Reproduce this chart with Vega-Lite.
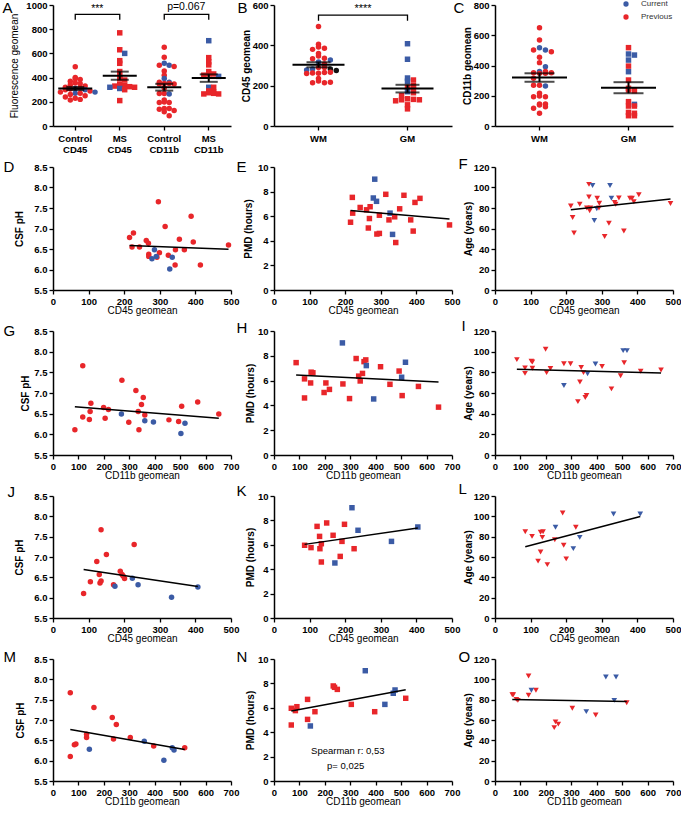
{
"$schema": "https://vega.github.io/schema/vega-lite/v6.json",
"padding": {"left": 2, "top": 0, "right": 0, "bottom": 0},
"bounds": "flush",
"columns": 3,
"spacing": {"row": 41, "column": 43},
"resolve": {"scale": {"color": "independent", "shape": "independent", "xOffset": "independent"}, "legend": {"color": "independent", "shape": "independent"}},
"config": {
  "font": "Liberation Sans",
  "view": {"stroke": null},
  "axis": {"labelFont": "Liberation Sans", "labelFontWeight": "bold", "labelFontSize": 9.5, "labelColor": "#000", "titleFont": "Liberation Sans", "titleFontSize": 10, "titleColor": "#000", "titleFontWeight": "normal", "domainColor": "#000", "domainWidth": 1.5, "tickColor": "#000", "tickWidth": 1.3, "tickSize": 4, "grid": false, "labelPadding": 2, "labelFlush": false},
  "axisX": {"titlePadding": 0},
  "axisY": {"titleFontWeight": "bold", "titlePadding": 4}
},
"datasets": {
  "A": [
    {"g":"Control CD45","y":490,"s":"P"},{"g":"Control CD45","y":400,"s":"P"},{"g":"Control CD45","y":390,"s":"P"},{"g":"Control CD45","y":385,"s":"P"},{"g":"Control CD45","y":370,"s":"P"},{"g":"Control CD45","y":355,"s":"P"},{"g":"Control CD45","y":350,"s":"P"},{"g":"Control CD45","y":340,"s":"P"},{"g":"Control CD45","y":330,"s":"P"},{"g":"Control CD45","y":320,"s":"P"},{"g":"Control CD45","y":310,"s":"C"},{"g":"Control CD45","y":315,"s":"P"},{"g":"Control CD45","y":305,"s":"P"},{"g":"Control CD45","y":300,"s":"C"},{"g":"Control CD45","y":300,"s":"P"},{"g":"Control CD45","y":290,"s":"P"},{"g":"Control CD45","y":280,"s":"P"},{"g":"Control CD45","y":280,"s":"C"},{"g":"Control CD45","y":270,"s":"C"},{"g":"Control CD45","y":270,"s":"P"},{"g":"Control CD45","y":260,"s":"P"},{"g":"Control CD45","y":250,"s":"P"},{"g":"Control CD45","y":240,"s":"P"},{"g":"Control CD45","y":230,"s":"P"},{"g":"Control CD45","y":220,"s":"P"},{"g":"Control CD45","y":215,"s":"P"},
    {"g":"MS CD45","y":770,"s":"P"},{"g":"MS CD45","y":630,"s":"P"},{"g":"MS CD45","y":600,"s":"C"},{"g":"MS CD45","y":540,"s":"P"},{"g":"MS CD45","y":518,"s":"P"},{"g":"MS CD45","y":450,"s":"P"},{"g":"MS CD45","y":410,"s":"P"},{"g":"MS CD45","y":390,"s":"P"},{"g":"MS CD45","y":380,"s":"P"},{"g":"MS CD45","y":345,"s":"P"},{"g":"MS CD45","y":335,"s":"P"},{"g":"MS CD45","y":330,"s":"P"},{"g":"MS CD45","y":325,"s":"P"},{"g":"MS CD45","y":320,"s":"C"},{"g":"MS CD45","y":320,"s":"P"},{"g":"MS CD45","y":310,"s":"C"},{"g":"MS CD45","y":300,"s":"P"},{"g":"MS CD45","y":210,"s":"P"},
    {"g":"Control CD11b","y":650,"s":"P"},{"g":"Control CD11b","y":568,"s":"P"},{"g":"Control CD11b","y":518,"s":"C"},{"g":"Control CD11b","y":502,"s":"C"},{"g":"Control CD11b","y":502,"s":"P"},{"g":"Control CD11b","y":491,"s":"P"},{"g":"Control CD11b","y":454,"s":"P"},{"g":"Control CD11b","y":419,"s":"P"},{"g":"Control CD11b","y":392,"s":"C"},{"g":"Control CD11b","y":361,"s":"C"},{"g":"Control CD11b","y":361,"s":"P"},{"g":"Control CD11b","y":352,"s":"P"},{"g":"Control CD11b","y":352,"s":"P"},{"g":"Control CD11b","y":348,"s":"P"},{"g":"Control CD11b","y":348,"s":"P"},{"g":"Control CD11b","y":315,"s":"P"},{"g":"Control CD11b","y":269,"s":"P"},{"g":"Control CD11b","y":264,"s":"C"},{"g":"Control CD11b","y":269,"s":"P"},{"g":"Control CD11b","y":216,"s":"P"},{"g":"Control CD11b","y":198,"s":"P"},{"g":"Control CD11b","y":194,"s":"P"},{"g":"Control CD11b","y":194,"s":"P"},{"g":"Control CD11b","y":145,"s":"P"},{"g":"Control CD11b","y":145,"s":"P"},{"g":"Control CD11b","y":139,"s":"P"},{"g":"Control CD11b","y":128,"s":"P"},{"g":"Control CD11b","y":117,"s":"P"},{"g":"Control CD11b","y":84,"s":"P"},
    {"g":"MS CD11b","y":705,"s":"C"},{"g":"MS CD11b","y":565,"s":"P"},{"g":"MS CD11b","y":530,"s":"P"},{"g":"MS CD11b","y":505,"s":"P"},{"g":"MS CD11b","y":450,"s":"P"},{"g":"MS CD11b","y":430,"s":"P"},{"g":"MS CD11b","y":430,"s":"P"},{"g":"MS CD11b","y":420,"s":"P"},{"g":"MS CD11b","y":410,"s":"C"},{"g":"MS CD11b","y":320,"s":"C"},{"g":"MS CD11b","y":320,"s":"P"},{"g":"MS CD11b","y":290,"s":"P"},{"g":"MS CD11b","y":280,"s":"P"},{"g":"MS CD11b","y":275,"s":"P"},{"g":"MS CD11b","y":270,"s":"P"},{"g":"MS CD11b","y":265,"s":"P"},{"g":"MS CD11b","y":265,"s":"P"}
  ],
  "Abr": [
    {"b":1,"o":1,"g":"Control CD45","y":878},{"b":1,"o":2,"g":"Control CD45","y":923},{"b":1,"o":3,"g":"MS CD45","y":923},{"b":1,"o":4,"g":"MS CD45","y":878},
    {"b":2,"o":1,"g":"Control CD11b","y":878},{"b":2,"o":2,"g":"Control CD11b","y":923},{"b":2,"o":3,"g":"MS CD11b","y":923},{"b":2,"o":4,"g":"MS CD11b","y":878}
  ],
  "Atx": [{"g":"Control CD45","y":940,"t":"***"},{"g":"Control CD11b","y":962,"t":"p=0.067"}],
  "B": [
    {"g":"WM","y":493,"s":"P"},{"g":"WM","y":405,"s":"P"},{"g":"WM","y":392,"s":"P"},{"g":"WM","y":385,"s":"P"},{"g":"WM","y":380,"s":"P"},{"g":"WM","y":360,"s":"P"},{"g":"WM","y":347,"s":"P"},{"g":"WM","y":336,"s":"P"},{"g":"WM","y":333,"s":"P"},{"g":"WM","y":327,"s":"C"},{"g":"WM","y":317,"s":"C"},{"g":"WM","y":307,"s":"P"},{"g":"WM","y":290,"s":"P"},{"g":"WM","y":290,"s":"P"},{"g":"WM","y":283,"s":"C"},{"g":"WM","y":283,"s":"K"},{"g":"WM","y":278,"s":"C"},{"g":"WM","y":275,"s":"K"},{"g":"WM","y":262,"s":"P"},{"g":"WM","y":265,"s":"P"},{"g":"WM","y":263,"s":"P"},{"g":"WM","y":266,"s":"P"},{"g":"WM","y":260,"s":"P"},{"g":"WM","y":236,"s":"P"},{"g":"WM","y":223,"s":"P"},{"g":"WM","y":215,"s":"P"},{"g":"WM","y":215,"s":"P"},{"g":"WM","y":217,"s":"P"},
    {"g":"GM","y":408,"s":"C"},{"g":"GM","y":331,"s":"C"},{"g":"GM","y":238,"s":"C"},{"g":"GM","y":228,"s":"P"},{"g":"GM","y":222,"s":"C"},{"g":"GM","y":200,"s":"P"},{"g":"GM","y":192,"s":"P"},{"g":"GM","y":190,"s":"P"},{"g":"GM","y":170,"s":"C"},{"g":"GM","y":165,"s":"P"},{"g":"GM","y":150,"s":"P"},{"g":"GM","y":135,"s":"P"},{"g":"GM","y":132,"s":"P"},{"g":"GM","y":130,"s":"P"},{"g":"GM","y":130,"s":"P"},{"g":"GM","y":125,"s":"P"},{"g":"GM","y":105,"s":"P"},{"g":"GM","y":85,"s":"P"}
  ],
  "Bbr": [{"b":1,"o":1,"g":"WM","y":522},{"b":1,"o":2,"g":"WM","y":550},{"b":1,"o":3,"g":"GM","y":550},{"b":1,"o":4,"g":"GM","y":522}],
  "Btx": [{"g":"WM","y":567,"t":"****"}],
  "C": [
    {"g":"WM","y":650,"s":"Previous"},{"g":"WM","y":568,"s":"Previous"},{"g":"WM","y":518,"s":"Current"},{"g":"WM","y":502,"s":"Current"},{"g":"WM","y":502,"s":"Previous"},{"g":"WM","y":491,"s":"Previous"},{"g":"WM","y":454,"s":"Previous"},{"g":"WM","y":419,"s":"Previous"},{"g":"WM","y":392,"s":"Current"},{"g":"WM","y":361,"s":"Current"},{"g":"WM","y":361,"s":"Previous"},{"g":"WM","y":352,"s":"Previous"},{"g":"WM","y":352,"s":"Previous"},{"g":"WM","y":348,"s":"Previous"},{"g":"WM","y":348,"s":"Previous"},{"g":"WM","y":315,"s":"Previous"},{"g":"WM","y":269,"s":"Previous"},{"g":"WM","y":264,"s":"Current"},{"g":"WM","y":269,"s":"Previous"},{"g":"WM","y":216,"s":"Previous"},{"g":"WM","y":198,"s":"Previous"},{"g":"WM","y":194,"s":"Previous"},{"g":"WM","y":194,"s":"Previous"},{"g":"WM","y":145,"s":"Previous"},{"g":"WM","y":145,"s":"Previous"},{"g":"WM","y":139,"s":"Previous"},{"g":"WM","y":128,"s":"Previous"},{"g":"WM","y":117,"s":"Previous"},{"g":"WM","y":84,"s":"Previous"},
    {"g":"GM","y":518,"s":"Previous"},{"g":"GM","y":476,"s":"Current"},{"g":"GM","y":469,"s":"Current"},{"g":"GM","y":436,"s":"Current"},{"g":"GM","y":396,"s":"Previous"},{"g":"GM","y":359,"s":"Current"},{"g":"GM","y":304,"s":"Previous"},{"g":"GM","y":249,"s":"Previous"},{"g":"GM","y":238,"s":"Previous"},{"g":"GM","y":233,"s":"Previous"},{"g":"GM","y":161,"s":"Previous"},{"g":"GM","y":143,"s":"Current"},{"g":"GM","y":132,"s":"Previous"},{"g":"GM","y":132,"s":"Previous"},{"g":"GM","y":90,"s":"Previous"},{"g":"GM","y":84,"s":"Previous"},{"g":"GM","y":68,"s":"Previous"},{"g":"GM","y":68,"s":"Previous"}
  ],
  "D": [{"x":215,"y":6.78,"s":"P"},{"x":226,"y":6.89,"s":"P"},{"x":222,"y":6.55,"s":"P"},{"x":243,"y":6.55,"s":"P"},{"x":262,"y":6.71,"s":"P"},{"x":268,"y":6.64,"s":"P"},{"x":269,"y":6.37,"s":"P"},{"x":269,"y":6.32,"s":"P"},{"x":296,"y":7.65,"s":"P"},{"x":299,"y":6.41,"s":"P"},{"x":292,"y":6.3,"s":"P"},{"x":285,"y":6.48,"s":"C"},{"x":290,"y":6.32,"s":"C"},{"x":278,"y":6.26,"s":"C"},{"x":315,"y":7.05,"s":"P"},{"x":324,"y":6.35,"s":"P"},{"x":335,"y":6.3,"s":"C"},{"x":328,"y":6.01,"s":"C"},{"x":343,"y":6.11,"s":"P"},{"x":344,"y":6.48,"s":"P"},{"x":355,"y":6.74,"s":"P"},{"x":369,"y":6.48,"s":"P"},{"x":388,"y":7.3,"s":"P"},{"x":394,"y":6.67,"s":"P"},{"x":414,"y":6.11,"s":"P"},{"x":493,"y":6.6,"s":"P"}],
  "E": [{"x":215,"y":5.51,"s":"P"},{"x":220,"y":7.53,"s":"P"},{"x":221,"y":6.25,"s":"P"},{"x":242,"y":6.71,"s":"P"},{"x":260,"y":6.52,"s":"P"},{"x":270,"y":6.77,"s":"P"},{"x":268,"y":5.81,"s":"P"},{"x":265,"y":5.04,"s":"P"},{"x":279,"y":7.48,"s":"C"},{"x":288,"y":7.21,"s":"C"},{"x":283,"y":9.01,"s":"C"},{"x":296,"y":6.08,"s":"P"},{"x":289,"y":4.55,"s":"P"},{"x":296,"y":4.6,"s":"P"},{"x":314,"y":7.78,"s":"P"},{"x":326,"y":6.25,"s":"C"},{"x":323,"y":5.7,"s":"P"},{"x":339,"y":5.95,"s":"P"},{"x":333,"y":4.52,"s":"C"},{"x":342,"y":3.86,"s":"P"},{"x":353,"y":6.6,"s":"P"},{"x":365,"y":7.7,"s":"P"},{"x":384,"y":5.7,"s":"P"},{"x":391,"y":4.79,"s":"P"},{"x":396,"y":7.12,"s":"P"},{"x":410,"y":7.45,"s":"P"},{"x":493,"y":5.29,"s":"P"}],
  "F": [{"x":213,"y":82,"s":"P"},{"x":218,"y":70.8,"s":"P"},{"x":222,"y":55.6,"s":"P"},{"x":238,"y":83.7,"s":"P"},{"x":264,"y":103,"s":"P"},{"x":274,"y":102,"s":"C"},{"x":264,"y":90.8,"s":"P"},{"x":258,"y":80,"s":"P"},{"x":268,"y":80,"s":"P"},{"x":266,"y":77.3,"s":"P"},{"x":287,"y":89.5,"s":"P"},{"x":286,"y":79.3,"s":"C"},{"x":293,"y":84.7,"s":"P"},{"x":292,"y":80,"s":"P"},{"x":279,"y":67.8,"s":"C"},{"x":308,"y":52.2,"s":"P"},{"x":323,"y":102,"s":"C"},{"x":327,"y":89.5,"s":"C"},{"x":320,"y":65.1,"s":"P"},{"x":336,"y":85.4,"s":"P"},{"x":339,"y":83.7,"s":"P"},{"x":348,"y":89.8,"s":"P"},{"x":362,"y":57.6,"s":"P"},{"x":379,"y":89.5,"s":"P"},{"x":385,"y":89.5,"s":"P"},{"x":390,"y":86.1,"s":"P"},{"x":404,"y":92.9,"s":"P"},{"x":493,"y":84.4,"s":"P"}],
  "G": [{"x":86,"y":6.11,"s":"P"},{"x":117,"y":7.66,"s":"P"},{"x":117,"y":6.42,"s":"P"},{"x":143,"y":6.36,"s":"P"},{"x":146,"y":6.55,"s":"P"},{"x":149,"y":6.75,"s":"P"},{"x":199,"y":6.65,"s":"P"},{"x":205,"y":6.39,"s":"P"},{"x":218,"y":6.6,"s":"P"},{"x":269,"y":6.49,"s":"C"},{"x":271,"y":7.31,"s":"P"},{"x":298,"y":6.29,"s":"P"},{"x":326,"y":7.06,"s":"P"},{"x":335,"y":6.55,"s":"P"},{"x":338,"y":6.11,"s":"P"},{"x":348,"y":6.72,"s":"P"},{"x":355,"y":6.89,"s":"P"},{"x":361,"y":6.33,"s":"C"},{"x":361,"y":6.47,"s":"P"},{"x":395,"y":6.3,"s":"C"},{"x":456,"y":6.35,"s":"P"},{"x":494,"y":6.31,"s":"P"},{"x":506,"y":6.68,"s":"P"},{"x":503,"y":6.02,"s":"C"},{"x":519,"y":6.27,"s":"C"},{"x":569,"y":6.78,"s":"P"},{"x":652,"y":6.49,"s":"P"}],
  "H": [{"x":87,"y":7.45,"s":"P"},{"x":120,"y":6.14,"s":"P"},{"x":120,"y":4.6,"s":"P"},{"x":144,"y":5.81,"s":"P"},{"x":146,"y":6.68,"s":"P"},{"x":153,"y":6.63,"s":"P"},{"x":197,"y":5.04,"s":"P"},{"x":204,"y":5.81,"s":"P"},{"x":218,"y":5.29,"s":"P"},{"x":269,"y":9.04,"s":"C"},{"x":271,"y":5.73,"s":"P"},{"x":297,"y":4.55,"s":"P"},{"x":323,"y":7.78,"s":"P"},{"x":333,"y":6.36,"s":"P"},{"x":339,"y":5.97,"s":"P"},{"x":348,"y":6.58,"s":"P"},{"x":354,"y":7.53,"s":"P"},{"x":361,"y":7.67,"s":"P"},{"x":363,"y":7.21,"s":"C"},{"x":392,"y":4.52,"s":"C"},{"x":419,"y":7.12,"s":"P"},{"x":456,"y":5.7,"s":"P"},{"x":492,"y":6.77,"s":"P"},{"x":502,"y":6.27,"s":"C"},{"x":504,"y":4.79,"s":"P"},{"x":517,"y":7.48,"s":"C"},{"x":568,"y":5.53,"s":"P"},{"x":647,"y":3.86,"s":"P"}],
  "I": [{"x":86,"y":92.3,"s":"P"},{"x":118,"y":84.3,"s":"P"},{"x":118,"y":79,"s":"P"},{"x":143,"y":90.7,"s":"P"},{"x":147,"y":90,"s":"P"},{"x":147,"y":84,"s":"P"},{"x":199,"y":102.3,"s":"P"},{"x":203,"y":79.7,"s":"P"},{"x":218,"y":83.7,"s":"P"},{"x":271,"y":67.3,"s":"C"},{"x":271,"y":88.3,"s":"P"},{"x":297,"y":88.3,"s":"P"},{"x":334,"y":70.7,"s":"P"},{"x":339,"y":84.7,"s":"P"},{"x":326,"y":51.7,"s":"P"},{"x":348,"y":79.7,"s":"P"},{"x":355,"y":55.7,"s":"P"},{"x":360,"y":57.7,"s":"P"},{"x":364,"y":78.7,"s":"C"},{"x":395,"y":88,"s":"C"},{"x":421,"y":85.7,"s":"P"},{"x":458,"y":64,"s":"P"},{"x":494,"y":76.7,"s":"P"},{"x":504,"y":101,"s":"C"},{"x":519,"y":101,"s":"C"},{"x":508,"y":89.3,"s":"P"},{"x":573,"y":81,"s":"P"},{"x":653,"y":82.3,"s":"P"}],
  "J": [{"x":86,"y":6.1,"s":"P"},{"x":105,"y":6.39,"s":"P"},{"x":123,"y":6.89,"s":"P"},{"x":130,"y":6.57,"s":"P"},{"x":132,"y":6.36,"s":"P"},{"x":135,"y":6.41,"s":"P"},{"x":135,"y":7.67,"s":"P"},{"x":150,"y":7.06,"s":"P"},{"x":170,"y":6.32,"s":"P"},{"x":174,"y":6.28,"s":"C"},{"x":189,"y":6.65,"s":"P"},{"x":194,"y":6.57,"s":"P"},{"x":197,"y":6.53,"s":"P"},{"x":201,"y":6.47,"s":"P"},{"x":228,"y":7.31,"s":"P"},{"x":223,"y":6.48,"s":"C"},{"x":239,"y":6.32,"s":"C"},{"x":333,"y":6.01,"s":"C"},{"x":407,"y":6.26,"s":"C"}],
  "K": [{"x":86,"y":5.96,"s":"P"},{"x":104,"y":5.77,"s":"P"},{"x":121,"y":7.51,"s":"P"},{"x":128,"y":6.69,"s":"P"},{"x":129,"y":5.68,"s":"P"},{"x":133,"y":6.09,"s":"P"},{"x":133,"y":4.59,"s":"P"},{"x":148,"y":7.79,"s":"P"},{"x":166,"y":6.78,"s":"P"},{"x":171,"y":4.51,"s":"C"},{"x":186,"y":5.05,"s":"P"},{"x":191,"y":6.28,"s":"P"},{"x":198,"y":7.68,"s":"P"},{"x":225,"y":5.68,"s":"P"},{"x":219,"y":9.04,"s":"C"},{"x":236,"y":7.19,"s":"C"},{"x":330,"y":6.28,"s":"C"},{"x":404,"y":7.46,"s":"C"}],
  "L": [{"x":85,"y":84.9,"s":"P"},{"x":104,"y":80.3,"s":"P"},{"x":121,"y":55.9,"s":"P"},{"x":128,"y":84.3,"s":"P"},{"x":128,"y":64.9,"s":"P"},{"x":133,"y":79.3,"s":"P"},{"x":135,"y":84.9,"s":"P"},{"x":147,"y":52.5,"s":"P"},{"x":168,"y":76.9,"s":"P"},{"x":170,"y":89.3,"s":"C"},{"x":190,"y":103.3,"s":"P"},{"x":193,"y":71.6,"s":"P"},{"x":200,"y":58.2,"s":"P"},{"x":227,"y":89.3,"s":"P"},{"x":220,"y":68.2,"s":"C"},{"x":238,"y":79.3,"s":"C"},{"x":333,"y":102.3,"s":"C"},{"x":408,"y":102.3,"s":"C"}],
  "M": [{"x":68,"y":6.1,"s":"P"},{"x":68,"y":7.67,"s":"P"},{"x":84,"y":6.39,"s":"P"},{"x":90,"y":6.41,"s":"P"},{"x":132,"y":6.57,"s":"P"},{"x":132,"y":6.65,"s":"P"},{"x":161,"y":7.31,"s":"P"},{"x":233,"y":7.06,"s":"P"},{"x":238,"y":6.53,"s":"P"},{"x":249,"y":6.89,"s":"P"},{"x":304,"y":6.57,"s":"P"},{"x":396,"y":6.36,"s":"P"},{"x":518,"y":6.32,"s":"P"},{"x":143,"y":6.28,"s":"C"},{"x":359,"y":6.48,"s":"C"},{"x":436,"y":6.01,"s":"C"},{"x":469,"y":6.32,"s":"C"},{"x":476,"y":6.26,"s":"C"}],
  "N": [{"x":68,"y":5.96,"s":"P"},{"x":68,"y":4.59,"s":"P"},{"x":84,"y":5.77,"s":"P"},{"x":90,"y":6.09,"s":"P"},{"x":132,"y":6.69,"s":"P"},{"x":132,"y":5.05,"s":"P"},{"x":161,"y":5.68,"s":"P"},{"x":233,"y":7.79,"s":"P"},{"x":238,"y":7.68,"s":"P"},{"x":249,"y":7.51,"s":"P"},{"x":304,"y":6.28,"s":"P"},{"x":396,"y":5.68,"s":"P"},{"x":518,"y":6.78,"s":"P"},{"x":143,"y":4.51,"s":"C"},{"x":359,"y":9.04,"s":"C"},{"x":436,"y":6.28,"s":"C"},{"x":469,"y":7.19,"s":"C"},{"x":476,"y":7.46,"s":"C"}],
  "Ntx": [{"x":290,"y":2.45,"t":"Spearman r: 0,53"},{"x":282,"y":1.2,"t":"p= 0,025"}],
  "O": [{"x":68,"y":84.9,"s":"P"},{"x":72,"y":84.9,"s":"P"},{"x":84,"y":80.3,"s":"P"},{"x":90,"y":79.3,"s":"P"},{"x":132,"y":84.3,"s":"P"},{"x":132,"y":103.3,"s":"P"},{"x":161,"y":89.3,"s":"P"},{"x":233,"y":52.5,"s":"P"},{"x":238,"y":58.2,"s":"P"},{"x":249,"y":55.9,"s":"P"},{"x":304,"y":71.6,"s":"P"},{"x":396,"y":64.9,"s":"P"},{"x":518,"y":76.9,"s":"P"},{"x":143,"y":89.3,"s":"C"},{"x":359,"y":68.2,"s":"C"},{"x":436,"y":102.3,"s":"C"},{"x":469,"y":79.3,"s":"C"},{"x":476,"y":102.3,"s":"C"}]
},
"concat": [
  {
    "width": 178, "height": 121,
    "resolve": {"axis": {"x": "independent"}},
    "layer": [
      {
        "data": {"name": "A"},
        "transform": [
          {"bin": {"step": 40}, "field": "y", "as": "yb"},
          {"window": [{"op": "row_number", "as": "slot"}], "groupby": ["g", "yb"]}
        ],
        "mark": {"type": "point", "filled": true, "opacity": 1, "size": 30, "strokeWidth": 0},
        "encoding": {
          "x": {"field": "g", "type": "nominal", "title": null, "scale": {"domain": ["Control CD45","MS CD45","Control CD11b","MS CD11b"], "paddingInner": 0, "paddingOuter": 0}, "axis": {"orient": "bottom", "labelExpr": "split(datum.label, ' ')", "labelLineHeight": 11, "labelAngle": 0, "labelPadding": 3, "labelOverlap": false}},
          "xOffset": {"field": "slot", "type": "nominal", "scale": {"domain": [9,7,5,3,1,2,4,6,8]}},
          "y": {"field": "y", "type": "quantitative", "title": "Fluorescence geomean", "scale": {"domain": [0,1000], "nice": false}, "axis": {"values": [0,200,400,600,800,1000], "format": "d", "labelOverlap": false, "titleFontWeight": "normal", "titlePadding": 6}},
          "color": {"field": "s", "type": "nominal", "scale": {"domain": ["C","P"], "range": ["#3B5BA5","#E8262A"]}, "legend": null},
          "shape": {"field": "g", "type": "nominal", "scale": {"domain": ["Control CD45","MS CD45","Control CD11b","MS CD11b"], "range": ["circle","square","circle","square"]}, "legend": null}
        }
      },
      {
        "data": {"name": "A"},
        "mark": {"type": "errorbar", "extent": "stderr", "ticks": true, "size": 18, "thickness": 2, "color": "#000"},
        "encoding": {"x": {"field": "g", "type": "nominal", "axis": null}, "y": {"field": "y", "type": "quantitative", "title": "Fluorescence geomean", "axis": {"values": [0,200,400,600,800,1000], "format": "d", "labelOverlap": false, "titleFontWeight": "normal", "titlePadding": 6}}}
      },
      {
        "data": {"name": "A"},
        "mark": {"type": "tick", "color": "#000", "thickness": 2, "size": 34},
        "encoding": {"x": {"field": "g", "type": "nominal", "title": "A", "axis": {"orient": "top", "domain": false, "ticks": false, "labels": false, "titleX": -51, "titleY": 7, "titleAngle": 0, "titleAlign": "left", "titleBaseline": "alphabetic", "titleFontSize": 15, "titleFontWeight": "normal"}}, "y": {"field": "y", "type": "quantitative", "aggregate": "mean", "title": "Fluorescence geomean", "axis": {"values": [0,200,400,600,800,1000], "format": "d", "labelOverlap": false, "titleFontWeight": "normal", "titlePadding": 6}}}
      },
      {
        "data": {"name": "Abr"},
        "mark": {"type": "line", "color": "#000", "strokeWidth": 1.3},
        "encoding": {"x": {"field": "g", "type": "nominal", "axis": null}, "y": {"field": "y", "type": "quantitative", "title": "Fluorescence geomean", "axis": {"values": [0,200,400,600,800,1000], "format": "d", "labelOverlap": false, "titleFontWeight": "normal", "titlePadding": 6}}, "detail": {"field": "b", "type": "nominal"}, "order": {"field": "o", "type": "quantitative"}}
      },
      {
        "data": {"name": "Atx"},
        "mark": {"type": "text", "dx": 22, "fontSize": 10.5, "baseline": "alphabetic", "color": "#000"},
        "encoding": {"x": {"field": "g", "type": "nominal", "axis": null}, "y": {"field": "y", "type": "quantitative", "title": "Fluorescence geomean", "axis": {"values": [0,200,400,600,800,1000], "format": "d", "labelOverlap": false, "titleFontWeight": "normal", "titlePadding": 6}}, "text": {"field": "t", "type": "nominal"}}
      }
    ]
  },
  {
    "width": 178, "height": 121,
    "resolve": {"axis": {"x": "independent"}},
    "layer": [
      {
        "data": {"name": "B"},
        "transform": [
          {"bin": {"step": 25}, "field": "y", "as": "yb"},
          {"window": [{"op": "row_number", "as": "slot"}], "groupby": ["g", "yb"]}
        ],
        "mark": {"type": "point", "filled": true, "opacity": 1, "size": 30, "strokeWidth": 0},
        "encoding": {
          "x": {"field": "g", "type": "nominal", "title": null, "scale": {"domain": ["WM","GM"], "paddingInner": 0, "paddingOuter": 0}, "axis": {"orient": "bottom", "labelAngle": 0, "labelPadding": 3, "labelOverlap": false}},
          "xOffset": {"field": "slot", "type": "nominal", "scale": {"domain": [15,13,11,9,7,5,3,1,2,4,6,8,10,12,14]}},
          "y": {"field": "y", "type": "quantitative", "title": "CD45 geomean", "scale": {"domain": [0,600], "nice": false}, "axis": {"values": [0,200,400,600], "labelOverlap": false, "titlePadding": 1}},
          "color": {"field": "s", "type": "nominal", "scale": {"domain": ["C","P","K"], "range": ["#3B5BA5","#E8262A","#111111"]}, "legend": null},
          "shape": {"field": "g", "type": "nominal", "scale": {"domain": ["WM","GM"], "range": ["circle","square"]}, "legend": null}
        }
      },
      {
        "data": {"name": "B"},
        "mark": {"type": "errorbar", "extent": "stderr", "ticks": true, "size": 24, "thickness": 2, "color": "#000"},
        "encoding": {"x": {"field": "g", "type": "nominal", "axis": null}, "y": {"field": "y", "type": "quantitative", "title": "CD45 geomean", "axis": {"values": [0,200,400,600], "labelOverlap": false, "titlePadding": 1}}}
      },
      {
        "data": {"name": "B"},
        "mark": {"type": "tick", "color": "#000", "thickness": 2, "size": 52},
        "encoding": {"x": {"field": "g", "type": "nominal", "title": "B", "axis": {"orient": "top", "domain": false, "ticks": false, "labels": false, "titleX": -37, "titleY": 7, "titleAngle": 0, "titleAlign": "left", "titleBaseline": "alphabetic", "titleFontSize": 15, "titleFontWeight": "normal"}}, "y": {"field": "y", "type": "quantitative", "aggregate": "mean", "title": "CD45 geomean", "axis": {"values": [0,200,400,600], "labelOverlap": false, "titlePadding": 1}}}
      },
      {
        "data": {"name": "Bbr"},
        "mark": {"type": "line", "color": "#000", "strokeWidth": 1.3},
        "encoding": {"x": {"field": "g", "type": "nominal", "axis": null}, "y": {"field": "y", "type": "quantitative", "title": "CD45 geomean", "axis": {"values": [0,200,400,600], "labelOverlap": false, "titlePadding": 1}}, "detail": {"field": "b", "type": "nominal"}, "order": {"field": "o", "type": "quantitative"}}
      },
      {
        "data": {"name": "Btx"},
        "mark": {"type": "text", "dx": 44.5, "fontSize": 11, "baseline": "alphabetic", "color": "#000"},
        "encoding": {"x": {"field": "g", "type": "nominal", "axis": null}, "y": {"field": "y", "type": "quantitative", "title": "CD45 geomean", "axis": {"values": [0,200,400,600], "labelOverlap": false, "titlePadding": 1}}, "text": {"field": "t", "type": "nominal"}}
      }
    ]
  },
  {
    "width": 178, "height": 121,
    "resolve": {"axis": {"x": "independent"}},
    "layer": [
      {
        "data": {"name": "C"},
        "transform": [
          {"bin": {"step": 35}, "field": "y", "as": "yb"},
          {"window": [{"op": "row_number", "as": "slot"}], "groupby": ["g", "yb"]}
        ],
        "mark": {"type": "point", "filled": true, "opacity": 1, "size": 30, "strokeWidth": 0},
        "encoding": {
          "x": {"field": "g", "type": "nominal", "title": null, "scale": {"domain": ["WM","GM"], "paddingInner": 0, "paddingOuter": 0}, "axis": {"orient": "bottom", "labelAngle": 0, "labelPadding": 3, "labelOverlap": false}},
          "xOffset": {"field": "slot", "type": "nominal", "scale": {"domain": [15,13,11,9,7,5,3,1,2,4,6,8,10,12,14]}},
          "y": {"field": "y", "type": "quantitative", "title": "CD11b geomean", "scale": {"domain": [0,800], "nice": false}, "axis": {"values": [0,200,400,600,800], "labelOverlap": false, "titlePadding": 1}},
          "color": {"field": "s", "type": "nominal", "scale": {"domain": ["Current","Previous"], "range": ["#3B5BA5","#E8262A"]}, "legend": {"orient": "none", "legendX": 127, "legendY": -5, "title": null, "symbolType": "circle", "symbolSize": 28, "symbolStrokeWidth": 0, "labelFontSize": 8, "labelFont": "Liberation Sans", "labelColor": "#333", "labelOffset": 11, "rowPadding": 5, "padding": 0}},
          "shape": {"field": "g", "type": "nominal", "scale": {"domain": ["WM","GM"], "range": ["circle","square"]}, "legend": null}
        }
      },
      {
        "data": {"name": "C"},
        "mark": {"type": "errorbar", "extent": "stderr", "ticks": true, "size": 30, "thickness": 2, "color": "#000"},
        "encoding": {"x": {"field": "g", "type": "nominal", "axis": null}, "y": {"field": "y", "type": "quantitative", "title": "CD11b geomean", "axis": {"values": [0,200,400,600,800], "labelOverlap": false, "titlePadding": 1}}}
      },
      {
        "data": {"name": "C"},
        "mark": {"type": "tick", "color": "#000", "thickness": 2, "size": 55},
        "encoding": {"x": {"field": "g", "type": "nominal", "title": "C", "axis": {"orient": "top", "domain": false, "ticks": false, "labels": false, "titleX": -42, "titleY": 7, "titleAngle": 0, "titleAlign": "left", "titleBaseline": "alphabetic", "titleFontSize": 15, "titleFontWeight": "normal"}}, "y": {"field": "y", "type": "quantitative", "aggregate": "mean", "title": "CD11b geomean", "axis": {"values": [0,200,400,600,800], "labelOverlap": false, "titlePadding": 1}}}
      }
    ]
  },
  {
    "width": 178, "height": 123,
    "data": {"name": "D"},
    "resolve": {"axis": {"x": "independent"}},
    "layer": [
      {"mark": {"type": "point", "filled": true, "opacity": 1, "size": 30, "shape": "circle", "strokeWidth": 0},
       "encoding": {
         "x": {"field": "x", "type": "quantitative", "title": "CD45 geomean", "scale": {"domain": [0,500], "nice": false}, "axis": {"orient": "bottom", "values": [0,100,200,300,400,500], "labelOverlap": false}},
         "y": {"field": "y", "type": "quantitative", "title": "CSF pH", "scale": {"domain": [5.5,8.5], "nice": false, "zero": false}, "axis": {"values": [5.5,6,6.5,7,7.5,8,8.5], "labelOverlap": false, "format": ".1f", "titlePadding": 9}},
         "color": {"field": "s", "type": "nominal", "scale": {"domain": ["C","P"], "range": ["#3B5BA5","#E8262A"]}, "legend": null}}},
      {"transform": [{"regression": "y", "on": "x"}], "mark": {"type": "line", "color": "#000", "strokeWidth": 1.5},
       "encoding": {
         "x": {"field": "x", "type": "quantitative", "title": "D", "axis": {"orient": "top", "domain": false, "ticks": false, "labels": false, "titleX": -50, "titleY": 4, "titleAngle": 0, "titleAlign": "left", "titleBaseline": "alphabetic", "titleFontSize": 15, "titleFontWeight": "normal"}},
         "y": {"field": "y", "type": "quantitative", "title": "CSF pH", "axis": {"values": [5.5,6,6.5,7,7.5,8,8.5], "labelOverlap": false, "format": ".1f", "titlePadding": 9}}}}
    ]
  },
  {
    "width": 178, "height": 123,
    "data": {"name": "E"},
    "resolve": {"axis": {"x": "independent"}},
    "layer": [
      {"mark": {"type": "point", "filled": true, "opacity": 1, "size": 30, "shape": "square", "strokeWidth": 0},
       "encoding": {
         "x": {"field": "x", "type": "quantitative", "title": "CD45 geomean", "scale": {"domain": [0,500], "nice": false}, "axis": {"orient": "bottom", "values": [0,100,200,300,400,500], "labelOverlap": false}},
         "y": {"field": "y", "type": "quantitative", "title": "PMD (hours)", "scale": {"domain": [0,10], "nice": false}, "axis": {"values": [0,2,4,6,8,10], "labelOverlap": false, "titlePadding": 4}},
         "color": {"field": "s", "type": "nominal", "scale": {"domain": ["C","P"], "range": ["#3B5BA5","#E8262A"]}, "legend": null}}},
      {"transform": [{"regression": "y", "on": "x"}], "mark": {"type": "line", "color": "#000", "strokeWidth": 1.5},
       "encoding": {
         "x": {"field": "x", "type": "quantitative", "title": "E", "axis": {"orient": "top", "domain": false, "ticks": false, "labels": false, "titleX": -38, "titleY": 4, "titleAngle": 0, "titleAlign": "left", "titleBaseline": "alphabetic", "titleFontSize": 15, "titleFontWeight": "normal"}},
         "y": {"field": "y", "type": "quantitative", "title": "PMD (hours)", "axis": {"values": [0,2,4,6,8,10], "labelOverlap": false, "titlePadding": 4}}}}
    ]
  },
  {
    "width": 178, "height": 123,
    "data": {"name": "F"},
    "resolve": {"axis": {"x": "independent"}},
    "layer": [
      {"mark": {"type": "point", "filled": true, "opacity": 1, "size": 32, "shape": "triangle-down", "strokeWidth": 0},
       "encoding": {
         "x": {"field": "x", "type": "quantitative", "title": "CD45 geomean", "scale": {"domain": [0,500], "nice": false}, "axis": {"orient": "bottom", "values": [0,100,200,300,400,500], "labelOverlap": false}},
         "y": {"field": "y", "type": "quantitative", "title": "Age (years)", "scale": {"domain": [0,120], "nice": false}, "axis": {"values": [0,20,40,60,80,100,120], "labelOverlap": false, "titlePadding": 0}},
         "color": {"field": "s", "type": "nominal", "scale": {"domain": ["C","P"], "range": ["#3B5BA5","#E8262A"]}, "legend": null}}},
      {"transform": [{"regression": "y", "on": "x"}], "mark": {"type": "line", "color": "#000", "strokeWidth": 1.5},
       "encoding": {
         "x": {"field": "x", "type": "quantitative", "title": "F", "axis": {"orient": "top", "domain": false, "ticks": false, "labels": false, "titleX": -37, "titleY": 1, "titleAngle": 0, "titleAlign": "left", "titleBaseline": "alphabetic", "titleFontSize": 15, "titleFontWeight": "normal"}},
         "y": {"field": "y", "type": "quantitative", "title": "Age (years)", "axis": {"values": [0,20,40,60,80,100,120], "labelOverlap": false, "titlePadding": 0}}}}
    ]
  },
  {
    "width": 178, "height": 124,
    "data": {"name": "G"},
    "resolve": {"axis": {"x": "independent"}},
    "layer": [
      {"mark": {"type": "point", "filled": true, "opacity": 1, "size": 30, "shape": "circle", "strokeWidth": 0},
       "encoding": {
         "x": {"field": "x", "type": "quantitative", "title": "CD11b geomean", "scale": {"domain": [0,700], "nice": false}, "axis": {"orient": "bottom", "values": [0,100,200,300,400,500,600,700], "labelOverlap": false}},
         "y": {"field": "y", "type": "quantitative", "title": "CSF pH", "scale": {"domain": [5.5,8.5], "nice": false, "zero": false}, "axis": {"values": [5.5,6,6.5,7,7.5,8,8.5], "labelOverlap": false, "format": ".1f", "titlePadding": 3}},
         "color": {"field": "s", "type": "nominal", "scale": {"domain": ["C","P"], "range": ["#3B5BA5","#E8262A"]}, "legend": null}}},
      {"transform": [{"regression": "y", "on": "x"}], "mark": {"type": "line", "color": "#000", "strokeWidth": 1.5},
       "encoding": {
         "x": {"field": "x", "type": "quantitative", "title": "G", "axis": {"orient": "top", "domain": false, "ticks": false, "labels": false, "titleX": -50, "titleY": 4, "titleAngle": 0, "titleAlign": "left", "titleBaseline": "alphabetic", "titleFontSize": 15, "titleFontWeight": "normal"}},
         "y": {"field": "y", "type": "quantitative", "title": "CSF pH", "axis": {"values": [5.5,6,6.5,7,7.5,8,8.5], "labelOverlap": false, "format": ".1f", "titlePadding": 3}}}}
    ]
  },
  {
    "width": 178, "height": 124,
    "data": {"name": "H"},
    "resolve": {"axis": {"x": "independent"}},
    "layer": [
      {"mark": {"type": "point", "filled": true, "opacity": 1, "size": 30, "shape": "square", "strokeWidth": 0},
       "encoding": {
         "x": {"field": "x", "type": "quantitative", "title": "CD11b geomean", "scale": {"domain": [0,700], "nice": false}, "axis": {"orient": "bottom", "values": [0,100,200,300,400,500,600,700], "labelOverlap": false}},
         "y": {"field": "y", "type": "quantitative", "title": "PMD (hours)", "scale": {"domain": [0,10], "nice": false}, "axis": {"values": [0,2,4,6,8,10], "labelOverlap": false, "titlePadding": 2}},
         "color": {"field": "s", "type": "nominal", "scale": {"domain": ["C","P"], "range": ["#3B5BA5","#E8262A"]}, "legend": null}}},
      {"transform": [{"regression": "y", "on": "x"}], "mark": {"type": "line", "color": "#000", "strokeWidth": 1.5},
       "encoding": {
         "x": {"field": "x", "type": "quantitative", "title": "H", "axis": {"orient": "top", "domain": false, "ticks": false, "labels": false, "titleX": -38, "titleY": 1, "titleAngle": 0, "titleAlign": "left", "titleBaseline": "alphabetic", "titleFontSize": 15, "titleFontWeight": "normal"}},
         "y": {"field": "y", "type": "quantitative", "title": "PMD (hours)", "axis": {"values": [0,2,4,6,8,10], "labelOverlap": false, "titlePadding": 2}}}}
    ]
  },
  {
    "width": 178, "height": 124,
    "data": {"name": "I"},
    "resolve": {"axis": {"x": "independent"}},
    "layer": [
      {"mark": {"type": "point", "filled": true, "opacity": 1, "size": 32, "shape": "triangle-down", "strokeWidth": 0},
       "encoding": {
         "x": {"field": "x", "type": "quantitative", "title": "CD11b geomean", "scale": {"domain": [0,700], "nice": false}, "axis": {"orient": "bottom", "values": [0,100,200,300,400,500,600,700], "labelOverlap": false}},
         "y": {"field": "y", "type": "quantitative", "title": "Age (years)", "scale": {"domain": [0,120], "nice": false}, "axis": {"values": [0,20,40,60,80,100,120], "labelOverlap": false, "titlePadding": 0}},
         "color": {"field": "s", "type": "nominal", "scale": {"domain": ["C","P"], "range": ["#3B5BA5","#E8262A"]}, "legend": null}}},
      {"transform": [{"regression": "y", "on": "x"}], "mark": {"type": "line", "color": "#000", "strokeWidth": 1.5},
       "encoding": {
         "x": {"field": "x", "type": "quantitative", "title": "I", "axis": {"orient": "top", "domain": false, "ticks": false, "labels": false, "titleX": -34, "titleY": -1, "titleAngle": 0, "titleAlign": "left", "titleBaseline": "alphabetic", "titleFontSize": 15, "titleFontWeight": "normal"}},
         "y": {"field": "y", "type": "quantitative", "title": "Age (years)", "axis": {"values": [0,20,40,60,80,100,120], "labelOverlap": false, "titlePadding": 0}}}}
    ]
  },
  {
    "width": 178, "height": 122,
    "data": {"name": "J"},
    "resolve": {"axis": {"x": "independent"}},
    "layer": [
      {"mark": {"type": "point", "filled": true, "opacity": 1, "size": 30, "shape": "circle", "strokeWidth": 0},
       "encoding": {
         "x": {"field": "x", "type": "quantitative", "title": "CD45 geomean", "scale": {"domain": [0,500], "nice": false}, "axis": {"orient": "bottom", "values": [0,100,200,300,400,500], "labelOverlap": false}},
         "y": {"field": "y", "type": "quantitative", "title": "CSF pH", "scale": {"domain": [5.5,8.5], "nice": false, "zero": false}, "axis": {"values": [5.5,6,6.5,7,7.5,8,8.5], "labelOverlap": false, "format": ".1f", "titlePadding": 9}},
         "color": {"field": "s", "type": "nominal", "scale": {"domain": ["C","P"], "range": ["#3B5BA5","#E8262A"]}, "legend": null}}},
      {"transform": [{"regression": "y", "on": "x"}], "mark": {"type": "line", "color": "#000", "strokeWidth": 1.5},
       "encoding": {
         "x": {"field": "x", "type": "quantitative", "title": "J", "axis": {"orient": "top", "domain": false, "ticks": false, "labels": false, "titleX": -46, "titleY": 0, "titleAngle": 0, "titleAlign": "left", "titleBaseline": "alphabetic", "titleFontSize": 15, "titleFontWeight": "normal"}},
         "y": {"field": "y", "type": "quantitative", "title": "CSF pH", "axis": {"values": [5.5,6,6.5,7,7.5,8,8.5], "labelOverlap": false, "format": ".1f", "titlePadding": 9}}}}
    ]
  },
  {
    "width": 178, "height": 122,
    "data": {"name": "K"},
    "resolve": {"axis": {"x": "independent"}},
    "layer": [
      {"mark": {"type": "point", "filled": true, "opacity": 1, "size": 30, "shape": "square", "strokeWidth": 0},
       "encoding": {
         "x": {"field": "x", "type": "quantitative", "title": "CD45 geomean", "scale": {"domain": [0,500], "nice": false}, "axis": {"orient": "bottom", "values": [0,100,200,300,400,500], "labelOverlap": false}},
         "y": {"field": "y", "type": "quantitative", "title": "PMD (hours)", "scale": {"domain": [0,10], "nice": false}, "axis": {"values": [0,2,4,6,8,10], "labelOverlap": false, "titlePadding": 2}},
         "color": {"field": "s", "type": "nominal", "scale": {"domain": ["C","P"], "range": ["#3B5BA5","#E8262A"]}, "legend": null}}},
      {"transform": [{"regression": "y", "on": "x"}], "mark": {"type": "line", "color": "#000", "strokeWidth": 1.5},
       "encoding": {
         "x": {"field": "x", "type": "quantitative", "title": "K", "axis": {"orient": "top", "domain": false, "ticks": false, "labels": false, "titleX": -38, "titleY": -1, "titleAngle": 0, "titleAlign": "left", "titleBaseline": "alphabetic", "titleFontSize": 15, "titleFontWeight": "normal"}},
         "y": {"field": "y", "type": "quantitative", "title": "PMD (hours)", "axis": {"values": [0,2,4,6,8,10], "labelOverlap": false, "titlePadding": 2}}}}
    ]
  },
  {
    "width": 178, "height": 122,
    "data": {"name": "L"},
    "resolve": {"axis": {"x": "independent"}},
    "layer": [
      {"mark": {"type": "point", "filled": true, "opacity": 1, "size": 32, "shape": "triangle-down", "strokeWidth": 0},
       "encoding": {
         "x": {"field": "x", "type": "quantitative", "title": "CD45 geomean", "scale": {"domain": [0,500], "nice": false}, "axis": {"orient": "bottom", "values": [0,100,200,300,400,500], "labelOverlap": false}},
         "y": {"field": "y", "type": "quantitative", "title": "Age (years)", "scale": {"domain": [0,120], "nice": false}, "axis": {"values": [0,20,40,60,80,100,120], "labelOverlap": false, "titlePadding": 0}},
         "color": {"field": "s", "type": "nominal", "scale": {"domain": ["C","P"], "range": ["#3B5BA5","#E8262A"]}, "legend": null}}},
      {"transform": [{"regression": "y", "on": "x"}], "mark": {"type": "line", "color": "#000", "strokeWidth": 1.5},
       "encoding": {
         "x": {"field": "x", "type": "quantitative", "title": "L", "axis": {"orient": "top", "domain": false, "ticks": false, "labels": false, "titleX": -37, "titleY": -3, "titleAngle": 0, "titleAlign": "left", "titleBaseline": "alphabetic", "titleFontSize": 15, "titleFontWeight": "normal"}},
         "y": {"field": "y", "type": "quantitative", "title": "Age (years)", "axis": {"values": [0,20,40,60,80,100,120], "labelOverlap": false, "titlePadding": 0}}}}
    ]
  },
  {
    "width": 178, "height": 122,
    "data": {"name": "M"},
    "resolve": {"axis": {"x": "independent"}},
    "layer": [
      {"mark": {"type": "point", "filled": true, "opacity": 1, "size": 30, "shape": "circle", "strokeWidth": 0},
       "encoding": {
         "x": {"field": "x", "type": "quantitative", "title": "CD11b geomean", "scale": {"domain": [0,700], "nice": false}, "axis": {"orient": "bottom", "values": [0,100,200,300,400,500,600,700], "labelOverlap": false}},
         "y": {"field": "y", "type": "quantitative", "title": "CSF pH", "scale": {"domain": [5.5,8.5], "nice": false, "zero": false}, "axis": {"values": [5.5,6,6.5,7,7.5,8,8.5], "labelOverlap": false, "format": ".1f", "titlePadding": 8}},
         "color": {"field": "s", "type": "nominal", "scale": {"domain": ["C","P"], "range": ["#3B5BA5","#E8262A"]}, "legend": null}}},
      {"transform": [{"regression": "y", "on": "x"}], "mark": {"type": "line", "color": "#000", "strokeWidth": 1.5},
       "encoding": {
         "x": {"field": "x", "type": "quantitative", "title": "M", "axis": {"orient": "top", "domain": false, "ticks": false, "labels": false, "titleX": -50, "titleY": 2, "titleAngle": 0, "titleAlign": "left", "titleBaseline": "alphabetic", "titleFontSize": 15, "titleFontWeight": "normal"}},
         "y": {"field": "y", "type": "quantitative", "title": "CSF pH", "axis": {"values": [5.5,6,6.5,7,7.5,8,8.5], "labelOverlap": false, "format": ".1f", "titlePadding": 8}}}}
    ]
  },
  {
    "width": 178, "height": 122,
    "resolve": {"axis": {"x": "independent"}},
    "layer": [
      {"data": {"name": "N"}, "mark": {"type": "point", "filled": true, "opacity": 1, "size": 30, "shape": "square", "strokeWidth": 0},
       "encoding": {
         "x": {"field": "x", "type": "quantitative", "title": "CD11b geomean", "scale": {"domain": [0,700], "nice": false}, "axis": {"orient": "bottom", "values": [0,100,200,300,400,500,600,700], "labelOverlap": false}},
         "y": {"field": "y", "type": "quantitative", "title": "PMD (hours)", "scale": {"domain": [0,10], "nice": false}, "axis": {"values": [0,2,4,6,8,10], "labelOverlap": false, "titlePadding": 2}},
         "color": {"field": "s", "type": "nominal", "scale": {"domain": ["C","P"], "range": ["#3B5BA5","#E8262A"]}, "legend": null}}},
      {"data": {"name": "N"}, "transform": [{"regression": "y", "on": "x"}], "mark": {"type": "line", "color": "#000", "strokeWidth": 1.5},
       "encoding": {
         "x": {"field": "x", "type": "quantitative", "title": "N", "axis": {"orient": "top", "domain": false, "ticks": false, "labels": false, "titleX": -38, "titleY": 2, "titleAngle": 0, "titleAlign": "left", "titleBaseline": "alphabetic", "titleFontSize": 15, "titleFontWeight": "normal"}},
         "y": {"field": "y", "type": "quantitative", "title": "PMD (hours)", "axis": {"values": [0,2,4,6,8,10], "labelOverlap": false, "titlePadding": 2}}}},
      {"data": {"name": "Ntx"}, "mark": {"type": "text", "fontSize": 9.5, "align": "center", "baseline": "middle", "color": "#000"},
       "encoding": {"x": {"field": "x", "type": "quantitative", "axis": null}, "y": {"field": "y", "type": "quantitative", "title": "PMD (hours)", "axis": {"values": [0,2,4,6,8,10], "labelOverlap": false, "titlePadding": 2}}, "text": {"field": "t", "type": "nominal"}}}
    ]
  },
  {
    "width": 178, "height": 122,
    "data": {"name": "O"},
    "resolve": {"axis": {"x": "independent"}},
    "layer": [
      {"mark": {"type": "point", "filled": true, "opacity": 1, "size": 32, "shape": "triangle-down", "strokeWidth": 0},
       "encoding": {
         "x": {"field": "x", "type": "quantitative", "title": "CD11b geomean", "scale": {"domain": [0,700], "nice": false}, "axis": {"orient": "bottom", "values": [0,100,200,300,400,500,600,700], "labelOverlap": false}},
         "y": {"field": "y", "type": "quantitative", "title": "Age (years)", "scale": {"domain": [0,120], "nice": false}, "axis": {"values": [0,20,40,60,80,100,120], "labelOverlap": false, "titlePadding": 0}},
         "color": {"field": "s", "type": "nominal", "scale": {"domain": ["C","P"], "range": ["#3B5BA5","#E8262A"]}, "legend": null}}},
      {"transform": [{"regression": "y", "on": "x"}], "mark": {"type": "line", "color": "#000", "strokeWidth": 1.5},
       "encoding": {
         "x": {"field": "x", "type": "quantitative", "title": "O", "axis": {"orient": "top", "domain": false, "ticks": false, "labels": false, "titleX": -37, "titleY": 2, "titleAngle": 0, "titleAlign": "left", "titleBaseline": "alphabetic", "titleFontSize": 15, "titleFontWeight": "normal"}},
         "y": {"field": "y", "type": "quantitative", "title": "Age (years)", "axis": {"values": [0,20,40,60,80,100,120], "labelOverlap": false, "titlePadding": 0}}}}
    ]
  }
]
}
